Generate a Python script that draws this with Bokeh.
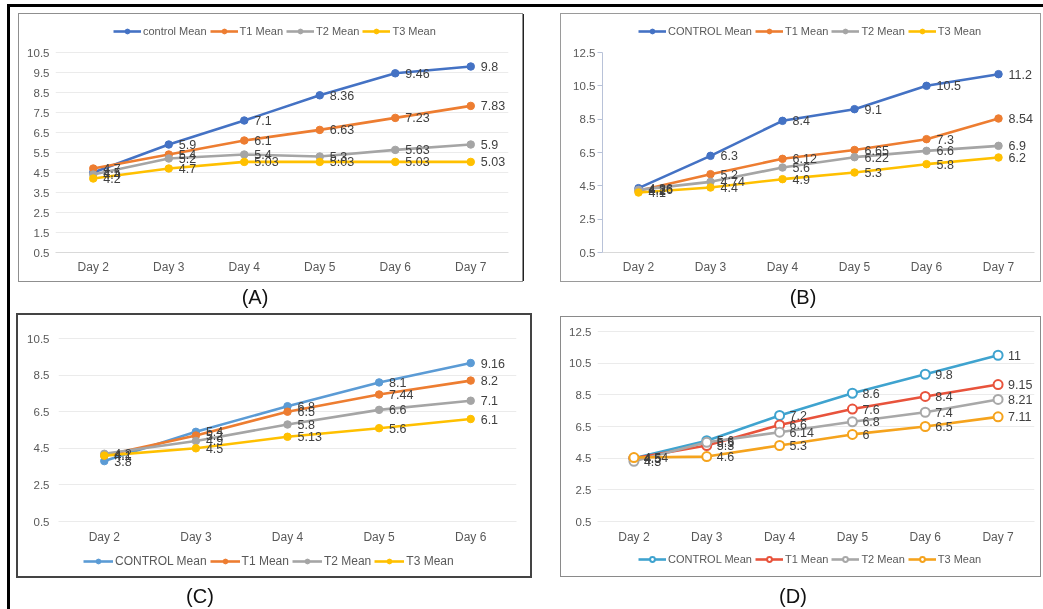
from bokeh.plotting import figure
from bokeh.models import (FactorRange, Range1d, FixedTicker, Legend, LegendItem,
                          ColumnDataSource, Div, Spacer)
from bokeh.layouts import row, column
from bokeh.embed import file_html
from bokeh.resources import INLINE
from bokeh.core.properties import value

FONT = "Liberation Sans"

# ---------------- data ----------------
days_a = ["Day 2", "Day 3", "Day 4", "Day 5", "Day 6", "Day 7"]
names_a = ["control Mean", "T1 Mean", "T2 Mean", "T3 Mean"]
a_control = [4.5, 5.9, 7.1, 8.36, 9.46, 9.8]
a_t1 = [4.7, 5.4, 6.1, 6.63, 7.23, 7.83]
a_t2 = [4.4, 5.2, 5.4, 5.3, 5.63, 5.9]
a_t3 = [4.2, 4.7, 5.03, 5.03, 5.03, 5.03]
ticks_a = [0.5, 1.5, 2.5, 3.5, 4.5, 5.5, 6.5, 7.5, 8.5, 9.5, 10.5]

days_b = ["Day 2", "Day 3", "Day 4", "Day 5", "Day 6", "Day 7"]
names_b = ["CONTROL Mean", "T1 Mean", "T2 Mean", "T3 Mean"]
b_control = [4.36, 6.3, 8.4, 9.1, 10.5, 11.2]
b_t1 = [4.2, 5.2, 6.12, 6.65, 7.3, 8.54]
b_t2 = [4.26, 4.74, 5.6, 6.22, 6.6, 6.9]
b_t3 = [4.1, 4.4, 4.9, 5.3, 5.8, 6.2]
ticks_b = [0.5, 2.5, 4.5, 6.5, 8.5, 10.5, 12.5]

days_c = ["Day 2", "Day 3", "Day 4", "Day 5", "Day 6"]
names_c = ["CONTROL Mean", "T1 Mean", "T2 Mean", "T3 Mean"]
c_control = [3.8, 5.4, 6.8, 8.1, 9.16]
c_t1 = [4.1, 5.2, 6.5, 7.44, 8.2]
c_t2 = [4.2, 4.9, 5.8, 6.6, 7.1]
c_t3 = [4.1, 4.5, 5.13, 5.6, 6.1]
ticks_c = [0.5, 2.5, 4.5, 6.5, 8.5, 10.5]

days_d = ["Day 2", "Day 3", "Day 4", "Day 5", "Day 6", "Day 7"]
names_d = ["CONTROL Mean", "T1 Mean", "T2 Mean", "T3 Mean"]
d_control = [4.5, 5.6, 7.2, 8.6, 9.8, 11]
d_t1 = [4.5, 5.3, 6.6, 7.6, 8.4, 9.15]
d_t2 = [4.3, 5.5, 6.14, 6.8, 7.4, 8.21]
d_t3 = [4.54, 4.6, 5.3, 6, 6.5, 7.11]
ticks_d = [0.5, 2.5, 4.5, 6.5, 8.5, 10.5, 12.5]

colors_ab = ["#4472C4", "#ED7D31", "#A5A5A5", "#FFC000"]
colors_c = ["#5B9BD5", "#ED7D31", "#A5A5A5", "#FFC000"]
colors_d = ["#3FA3CF", "#E8533C", "#A8A8A8", "#F5A31D"]


def style_legend(legend, size="11px", gw=28):
    legend.orientation = "horizontal"
    legend.label_text_font = FONT
    legend.label_text_font_size = size
    legend.label_text_color = "#595959"
    legend.glyph_width = gw
    legend.glyph_height = 12
    legend.label_height = 12
    legend.label_standoff = 2
    legend.padding = 2
    legend.spacing = 3
    legend.margin = 0
    legend.border_line_color = None
    legend.background_fill_alpha = 0


def draw_series(p, src, color, open_marker):
    ln = p.line("x", "y", source=src, line_color=color, line_width=2.6)
    if open_marker:
        sc = p.scatter("x", "y", source=src, size=9, fill_color="white",
                       line_color=color, line_width=2)
    else:
        sc = p.scatter("x", "y", source=src, size=7.5, fill_color=color,
                       line_color=color)
    return ln, sc


def make_chart(days, colors, series, ticks, width, height, borders,
               px_per_unit, open_marker=False, ygrid=True, yaxis_line=None,
               xaxis_line="#d9d9d9", ystandoff=6, xstandoff=7, styles=None):
    left, right, top, bottom = borders
    frame_h = height - top - bottom
    y0 = ticks[0]
    p = figure(width=width, height=height, x_range=FactorRange(*days),
               y_range=Range1d(y0, y0 + frame_h / px_per_unit),
               output_backend="svg", toolbar_location=None, title=None,
               min_border_left=left, min_border_right=right,
               min_border_top=top, min_border_bottom=bottom)
    if styles:
        p.styles = styles
    p.outline_line_color = None
    p.xgrid.grid_line_color = None
    if ygrid:
        p.ygrid.ticker = FixedTicker(ticks=ticks)
        p.ygrid.grid_line_color = "#ebebeb"
        p.ygrid.grid_line_width = 1
    else:
        p.ygrid.grid_line_color = None

    ya = p.yaxis[0]
    ya.ticker = FixedTicker(ticks=ticks)
    ya.major_label_text_font = FONT
    ya.major_label_text_font_size = "11.5px"
    ya.major_label_text_color = "#595959"
    ya.minor_tick_line_color = None
    ya.minor_tick_out = 0
    ya.major_label_standoff = ystandoff
    if yaxis_line:
        ya.axis_line_color = yaxis_line
        ya.major_tick_line_color = yaxis_line
        ya.major_tick_out = 5
        ya.major_tick_in = 0
        ya.bounds = (ticks[0], ticks[-1])
    else:
        ya.axis_line_color = None
        ya.major_tick_line_color = None
        ya.major_tick_out = 0
        ya.major_tick_in = 0

    xa = p.xaxis[0]
    xa.axis_line_color = xaxis_line
    xa.major_tick_line_color = None
    xa.major_tick_out = 0
    xa.major_tick_in = 0
    xa.major_label_standoff = xstandoff
    xa.major_label_text_font = FONT
    xa.major_label_text_font_size = "12px"
    xa.major_label_text_color = "#595959"

    rends, sources = [], []
    for color, vals in zip(colors, series):
        src = ColumnDataSource(dict(x=days, y=vals, t=[f"{v:g}" for v in vals]))
        sources.append(src)
        rends.append(draw_series(p, src, color, open_marker))
    for src in sources:
        p.text("x", "y", "t", source=src, x_offset=10, text_baseline="middle",
               text_font=value(FONT), text_font_size="12.5px",
               text_color="#404040")
    return p, rends, sources


def top_legend(p, names, rends, loc):
    items = [LegendItem(label=n, renderers=list(r)) for n, r in zip(names, rends)]
    lg = Legend(items=items)
    style_legend(lg)
    lg.location = loc
    p.add_layout(lg)


def legend_figure(days, names, colors, sources, width, height, loc,
                  open_marker=False, size="11px", gw=28):
    # a strip below the chart that only holds its legend; the series are
    # re-drawn from the same sources but fall outside this strip's y range
    q = figure(width=width, height=height, x_range=FactorRange(*days),
               y_range=Range1d(-101, -100), x_axis_type=None,
               y_axis_type=None, output_backend="svg",
               toolbar_location=None, title=None, min_border=0,
               min_border_left=0, min_border_right=0, min_border_top=0,
               min_border_bottom=0)
    q.outline_line_color = None
    q.grid.visible = False
    items = []
    for n, color, src in zip(names, colors, sources):
        ln, sc = draw_series(q, src, color, open_marker)
        items.append(LegendItem(label=n, renderers=[ln, sc]))
    lg = Legend(items=items)
    style_legend(lg, size, gw)
    lg.location = loc
    q.add_layout(lg)
    return q


pA, rA, _ = make_chart(days_a, colors_ab, [a_control, a_t1, a_t2, a_t3],
                       ticks_a, 503, 267, (36, 14, 4, 29), 20.0,
                       styles={"outline": "1px solid #8f8f8f",
                               "box-shadow": "2px 0 0 0 #222"})
top_legend(pA, names_a, rA, (58, 215))

pB, rB, _ = make_chart(days_b, colors_ab, [b_control, b_t1, b_t2, b_t3],
                       ticks_b, 479, 267, (41, 6, 4, 29), 200 / 12,
                       ygrid=False, yaxis_line="#b8c2d8", ystandoff=2,
                       styles={"outline": "1px solid #9a9a9a"})
top_legend(pB, names_b, rB, (36, 215))

pC, _, sC = make_chart(days_c, colors_c, [c_control, c_t1, c_t2, c_t3],
                       ticks_c, 512, 233, (40, 14, 6, 27), 18.3,
                       xaxis_line="#ebebeb", ystandoff=9, xstandoff=8)
lC = legend_figure(days_c, names_c, colors_c, sC, 512, 28, (25, 8),
                   size="12px", gw=30)
boxC = column(pC, lC, styles={"outline": "2px solid #444"})

pD, _, sD = make_chart(days_d, colors_d, [d_control, d_t1, d_t2, d_t3],
                       ticks_d, 479, 231, (36, 6, 4, 27), 190 / 12,
                       open_marker=True, xaxis_line="#ebebeb", ystandoff=6,
                       xstandoff=8)
lD = legend_figure(days_d, names_d, colors_d, sD, 479, 28, (41, 11),
                   open_marker=True)
boxD = column(pD, lD, styles={"outline": "1px solid #8a8a8a"})

lab_style = {"text-align": "center", "font-size": "20px", "font-family": FONT,
             "color": "#111111"}


def label(txt, h, lh, shift=0):
    st = dict(lab_style)
    st["line-height"] = f"{lh}px"
    html = txt if not shift else f'<span style="position:relative;top:{shift}px">{txt}</span>'
    return Div(text=html, width=100, height=h, styles=st, margin=0)


frame_html = ('<div style="position:fixed;left:7px;top:4px;width:3000px;'
              'height:3000px;border-top:3px solid #000;border-left:3px solid #000;'
              'pointer-events:none;box-sizing:border-box"></div>')
top_bar = Div(text=frame_html, width=1040, height=14, margin=0)

layout = column(
    top_bar,
    row(Spacer(width=19, height=10), pA, Spacer(width=39, height=10), pB),
    row(Spacer(width=205, height=10), label("(A)", 34, 32),
        Spacer(width=448, height=10), label("(B)", 34, 32)),
    row(Spacer(width=18, height=10), boxC, Spacer(width=31, height=10),
        column(Spacer(width=10, height=2), boxD)),
    row(Spacer(width=150, height=10), label("(C)", 30, 30, 5),
        Spacer(width=493, height=10), label("(D)", 30, 30, 5)),
)

open("out.html", "w").write(file_html(layout, INLINE))
